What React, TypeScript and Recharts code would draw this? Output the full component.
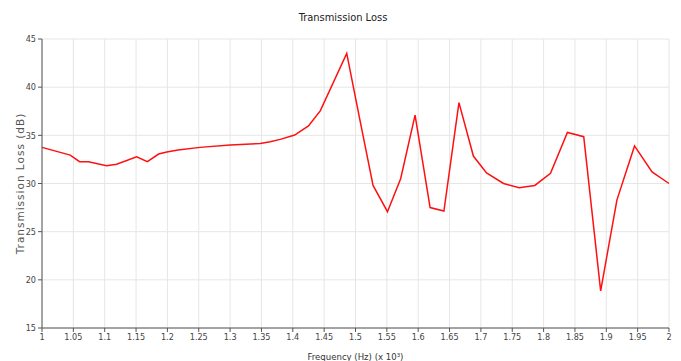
import { CartesianGrid, Label, Line, LineChart, XAxis, YAxis } from "recharts";

const freq = [
  1.0, 1.045, 1.06, 1.074, 1.103, 1.119, 1.151, 1.168, 1.186, 1.199, 1.217, 1.252,
  1.3, 1.348, 1.364, 1.38, 1.403, 1.425, 1.444, 1.486, 1.507, 1.528, 1.551, 1.572,
  1.595, 1.619, 1.641, 1.665, 1.688, 1.709, 1.736, 1.761, 1.786, 1.811, 1.838, 1.864,
  1.891, 1.917, 1.945, 1.973, 2.0,
];
const loss = [
  33.75, 32.95, 32.26, 32.26, 31.85, 32.0, 32.78, 32.26, 33.06, 33.27, 33.47, 33.75,
  33.99, 34.16, 34.33, 34.58, 35.03, 35.97, 37.56, 43.5, 36.6, 29.8, 27.07, 30.5,
  37.1, 27.5, 27.14, 38.4, 32.85, 31.1, 30.0, 29.56, 29.8, 31.05, 35.3, 34.86,
  18.86, 28.3, 33.9, 31.2, 30.0,
];
const xTicks = [1, 1.05, 1.1, 1.15, 1.2, 1.25, 1.3, 1.35, 1.4, 1.45, 1.5, 1.55, 1.6, 1.65, 1.7, 1.75, 1.8, 1.85, 1.9, 1.95, 2];
const yTicks = [15, 20, 25, 30, 35, 40, 45];

const data = freq.map((f, i) => ({ f, loss: loss[i] }));

const font = "'DejaVu Sans Condensed', 'Liberation Sans Narrow', sans-serif";
const tick = { fill: "#444", fontSize: 9, fontFamily: font };

export default function App() {
  return (
    <div style={{ position: "absolute", left: 0, top: 0, width: 681, height: 361, background: "#fff" }}>
      <div
        style={{
          position: "absolute",
          top: 11,
          left: 0,
          width: 686,
          textAlign: "center",
          fontFamily: font,
          fontSize: 11,
          color: "#222",
        }}
      >
        Transmission Loss
      </div>
      <LineChart width={681} height={361} data={data} margin={{ top: 39, right: 12, left: 0, bottom: 0 }}>
        <CartesianGrid stroke="#e6e6e6" strokeWidth={1} />
        <XAxis
          dataKey="f"
          type="number"
          domain={[1, 2]}
          ticks={xTicks}
          interval={0}
          tickFormatter={(v) => String(v)}
          tick={tick}
          tickSize={4}
          height={33}
          stroke="#555"
        >
          <Label
            value="Frequency (Hz) (x 10³)"
            position="insideBottom"
            offset={1}
            style={{ fill: "#333", fontSize: 9.5, fontFamily: font }}
          />
        </XAxis>
        <YAxis
          type="number"
          domain={[15, 45]}
          ticks={yTicks}
          interval={0}
          tick={tick}
          tickSize={4}
          width={42}
          stroke="#555"
        >
          <Label
            value="Transmission Loss (dB)"
            angle={-90}
            position="insideLeft"
            offset={20}
            style={{ fill: "#555", fontSize: 10.5, fontFamily: "'DejaVu Sans', sans-serif", letterSpacing: 1, textAnchor: "middle" }}
          />
        </YAxis>
        <Line
          type="linear"
          dataKey="loss"
          stroke="#ff1010"
          strokeWidth={1.5}
          dot={false}
          isAnimationActive={false}
        />
      </LineChart>
    </div>
  );
}
